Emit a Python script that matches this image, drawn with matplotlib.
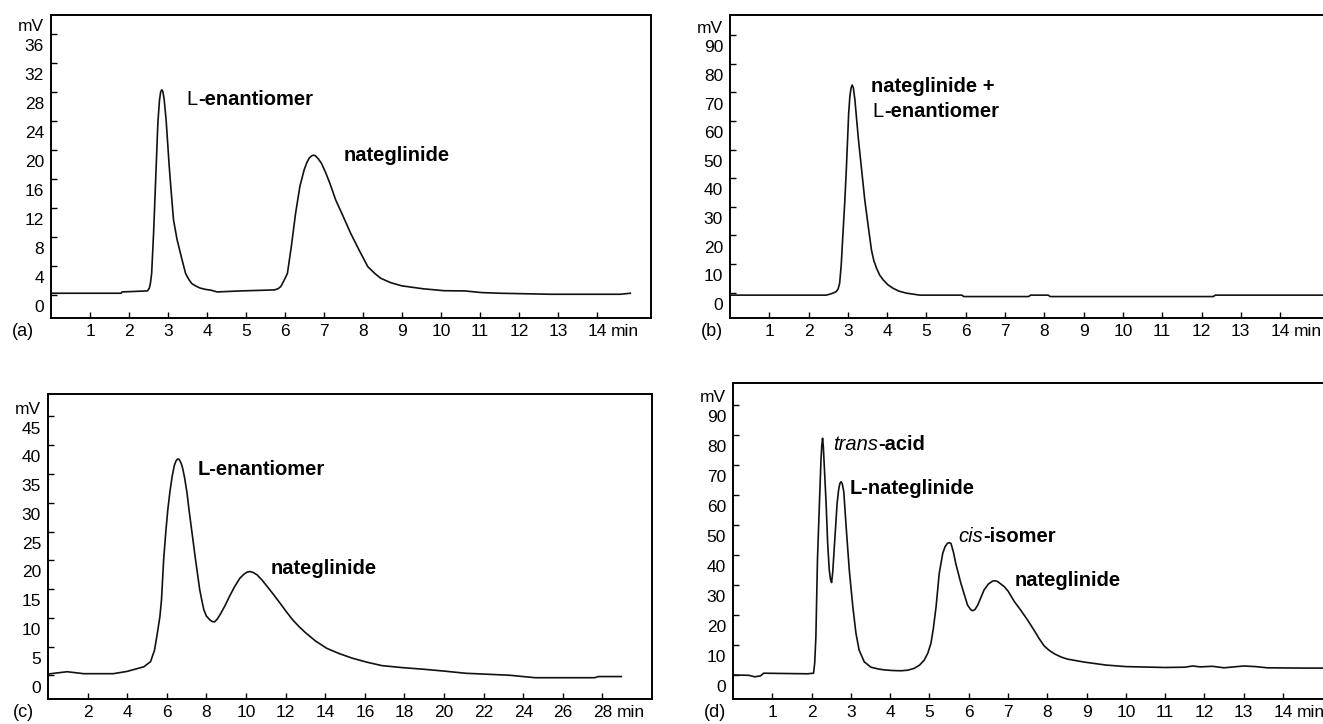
import matplotlib
matplotlib.use("Agg")
import matplotlib.pyplot as plt
import matplotlib.transforms as mtransforms

plt.rcParams["font.family"] = ["Liberation Sans", "DejaVu Sans"]

# ---- chromatogram (a): retention time (min) / detector signal (mV)
a_time = [0.0, 1.8, 1.82, 2.47, 2.52, 2.55, 2.58, 2.63, 2.69, 2.74, 2.78, 2.81,
          2.84, 2.87, 2.9, 2.95, 2.99, 3.03, 3.07, 3.14, 3.23, 3.34, 3.45, 3.53,
          3.61, 3.72, 3.82, 3.95, 4.1, 4.26, 4.86, 5.5, 5.73, 5.82, 5.89, 5.96,
          6.06, 6.16, 6.27, 6.38, 6.49, 6.56, 6.62, 6.68, 6.73, 6.78, 6.85, 6.93,
          7.04, 7.15, 7.3, 7.47, 7.68, 7.9, 8.12, 8.3, 8.45, 8.7, 8.99, 9.53,
          10.07, 10.6, 11.04, 11.5, 12.8, 14.6, 14.85]
a_mv = [0.28, 0.28, 0.46, 0.6, 0.97, 1.7, 3.0, 8.6, 16.9, 23.8, 26.8, 28.0,
        28.3, 28.0, 27.0, 24.2, 21.0, 17.8, 15.0, 10.4, 7.7, 5.3, 3.0, 2.2,
        1.6, 1.25, 1.0, 0.82, 0.7, 0.46, 0.6, 0.7, 0.74, 0.9, 1.2, 1.9,
        3.0, 6.7, 11.3, 15.0, 17.3, 18.3, 18.9, 19.2, 19.3, 19.2, 18.8, 18.2,
        16.9, 15.4, 13.1, 11.1, 8.55, 6.2, 3.95, 3.0, 2.35, 1.75, 1.3, 0.9,
        0.63, 0.6, 0.37, 0.28, 0.14, 0.14, 0.28]

# ---- chromatogram (b)
b_time = [0.0, 2.45, 2.53, 2.62, 2.7, 2.75, 2.79, 2.83, 2.87, 2.92, 2.96, 3.02,
          3.05, 3.08, 3.11, 3.14, 3.18, 3.22, 3.27, 3.35, 3.43, 3.52, 3.6, 3.66,
          3.73, 3.81, 3.9, 4.02, 4.15, 4.3, 4.49, 4.83, 5.9, 5.95, 7.6, 7.65,
          8.1, 8.15, 12.3, 12.35, 15.4]
b_mv = [-0.9, -0.9, -0.6, -0.2, 0.3, 1.2, 3.2, 9.5, 19.5, 31.5, 42.9, 62.7,
        68.5, 71.5, 72.6, 71.6, 67.3, 61.0, 53.4, 42.9, 32.4, 23.0, 14.9, 11.2,
        8.5, 6.1, 4.4, 2.7, 1.5, 0.5, -0.2, -0.9, -0.9, -1.4, -1.4, -0.9,
        -0.9, -1.4, -1.4, -0.9, -0.9]

# ---- chromatogram (c)
c_time = [0.0, 0.97, 1.8, 3.3, 4.0, 4.84, 5.18, 5.38, 5.52, 5.65, 5.73, 5.84,
          5.95, 6.05, 6.16, 6.27, 6.38, 6.47, 6.54, 6.6, 6.66, 6.73, 6.8, 6.9,
          7.02, 7.12, 7.23, 7.34, 7.45, 7.56, 7.66, 7.77, 7.87, 8.0, 8.19, 8.3,
          8.41, 8.55, 8.73, 8.95, 9.16, 9.42, 9.69, 9.9, 10.05, 10.2, 10.35,
          10.55, 10.8, 11.08, 11.4, 11.73, 12.05, 12.37, 12.7, 13.01, 13.5,
          14.08, 14.7, 15.36, 16.1, 16.86, 17.9, 19.0, 20.0, 21.1, 22.2, 23.3,
          24.6, 27.6, 27.8, 28.95]
c_mv = [0.24, 0.64, 0.3, 0.3, 0.7, 1.5, 2.4, 4.4, 7.3, 10.2, 13.1, 20.1,
        25.0, 28.8, 32.0, 34.6, 36.5, 37.3, 37.6, 37.6, 37.3, 36.8, 36.0, 34.3,
        31.7, 28.8, 25.9, 23.0, 20.1, 17.4, 14.9, 13.0, 11.4, 10.3, 9.6, 9.35,
        9.3, 9.8, 10.8, 12.2, 13.7, 15.4, 16.9, 17.6, 17.95, 18.05, 17.9,
        17.5, 16.6, 15.4, 14.0, 12.5, 11.0, 9.6, 8.4, 7.4, 6.0,
        4.7, 3.8, 3.0, 2.3, 1.7, 1.35, 1.06, 0.75, 0.37, 0.2, 0.03,
        -0.4, -0.4, -0.2, -0.2]

# ---- chromatogram (d)
d_time = [0.0, 0.4, 0.55, 0.7, 0.78, 1.3, 1.9, 2.05, 2.08, 2.11, 2.15, 2.2, 2.24,
          2.26, 2.28, 2.3, 2.32, 2.37, 2.41, 2.45, 2.48, 2.51, 2.54, 2.58, 2.65,
          2.69, 2.72, 2.75, 2.78, 2.82, 2.88, 2.96, 3.05, 3.13, 3.21, 3.34,
          3.51, 3.7, 3.85, 4.05, 4.27, 4.45, 4.61, 4.75, 4.87, 4.96, 5.04, 5.1,
          5.17, 5.25, 5.34, 5.4, 5.46, 5.51, 5.55, 5.61, 5.67, 5.8, 5.97, 6.05,
          6.1, 6.16, 6.23, 6.39, 6.5, 6.61, 6.68, 6.74, 6.9, 7.0, 7.16, 7.33,
          7.5, 7.65, 7.8, 7.92, 8.05, 8.19, 8.35, 8.51, 8.94, 9.5, 10.0, 11.0,
          11.5, 11.7, 11.9, 12.2, 12.5, 13.0, 13.3, 13.6, 14.5, 15.4]
d_mv = [0.0, -0.1, -0.6, -0.3, 0.6, 0.5, 0.4, 0.6, 4.0, 12.8, 38.3, 57.2, 71.7,
        76.5, 78.9, 76.0, 70.6, 57.2, 43.9, 35.0, 32.0, 30.8, 34.5, 42.8, 57.2,
        61.8, 63.8, 64.4, 63.8, 61.1, 49.4, 35.0, 22.8, 13.9, 8.3, 4.4,
        2.6, 2.0, 1.7, 1.5, 1.4, 1.6, 2.2, 3.3, 5.0, 7.3, 10.6, 15.5,
        22.8, 33.9, 40.6, 42.8, 43.9, 44.1, 43.8, 41.0, 37.2, 30.6, 23.3, 21.8,
        21.4, 21.8, 23.3, 28.3, 30.3, 31.3, 31.4, 31.1, 29.5, 28.0, 24.5, 21.5,
        18.3, 15.2, 12.0, 9.7, 8.2, 7.0, 6.0, 5.3, 4.3, 3.3, 2.8, 2.5,
        2.6, 3.0, 2.7, 2.9, 2.4, 3.0, 2.8, 2.4, 2.3, 2.3]

a_yticks = list(range(0, 37, 4))
b_yticks = list(range(0, 91, 10))
c_yticks = list(range(0, 46, 5))
d_yticks = list(range(0, 91, 10))
short_xticks = list(range(1, 15))
long_xticks = list(range(2, 29, 2))

W, H = 1323, 724
XPAD = 4.0
TICK_FS = 12.5
fig = plt.figure(figsize=(W / 100, H / 100), dpi=100)


def px_axes(left, top, right, bottom):
    return fig.add_axes([left / W, 1 - bottom / H, (right - left) / W, (bottom - top) / H])


def setup(ax, xlim, ylim, xticks, yticks, panel, label_x):
    ax.set_xlim(*xlim)
    ax.set_ylim(*ylim)
    ax.set_xticks(xticks)
    ax.set_xticklabels([str(t) for t in xticks])
    ax.set_yticks(yticks)
    ax.tick_params(direction="in", length=4, width=1.0, labelsize=TICK_FS, pad=5)
    ax.tick_params(axis="x", pad=XPAD)
    for s in ax.spines.values():
        s.set_linewidth(1.4)
    # chromatography software puts the y labels just under their tick
    offset = mtransforms.ScaledTranslation(0, -8 / 72, fig.dpi_scale_trans)
    for tick in ax.yaxis.get_major_ticks():
        tick.label1.set_transform(tick.label1.get_transform() + offset)
    ax.annotate("mV", xy=(0, yticks[-1]), xycoords=("axes fraction", "data"),
                xytext=(-5, 5), textcoords="offset points",
                ha="right", va="center", fontsize=TICK_FS)
    ax.annotate("min", xy=(xticks[-1], 0), xycoords=("data", "axes fraction"),
                xytext=(10, -XPAD), textcoords="offset points",
                ha="left", va="top", fontsize=TICK_FS)
    ax.annotate(panel, xy=(0, 0), xycoords="axes fraction",
                xytext=(label_x, -XPAD + 0.5), textcoords="offset points",
                ha="right", va="top", fontsize=13)


def label(ax, x, y, parts, size=14.5):
    prev = None
    for text, style in parts:
        kw = dict(fontsize=size, ha="left")
        kw.update(style)
        if prev is None:
            prev = ax.text(x, y, text, va="center", **kw)
        else:
            prev = ax.annotate(text, xy=(1, 0), xycoords=prev, va="bottom", **kw)


BOLD = {"fontweight": "bold"}
REG = {}
ITAL = {"fontstyle": "italic"}

line_kw = dict(color="#111111", lw=1.2)

# (a)
ax_a = px_axes(51, 15, 651, 318)
ax_a.plot(a_time, a_mv, **line_kw)
setup(ax_a, (0, 15.38), (-3.13, 38.6), short_xticks, a_yticks, "(a)", -12)
label(ax_a, 3.48, 27.0, [("L", REG), ("-enantiomer", BOLD)])
label(ax_a, 7.49, 19.2, [("nateglinide", BOLD)])

# (b)
ax_b = px_axes(730, 15, 1330, 318)
ax_b.plot(b_time, b_mv, **line_kw)
setup(ax_b, (0, 15.27), (-8.9, 97.1), short_xticks, b_yticks, "(b)", -5)
label(ax_b, 3.6, 72.1, [("nateglinide +", BOLD)])
label(ax_b, 3.63, 63.4, [("L", REG), ("-enantiomer", BOLD)])

# (c)
ax_c = px_axes(48, 394, 652, 699)
ax_c.plot(c_time, c_mv, **line_kw)
setup(ax_c, (0, 30.5), (-4.1, 48.9), long_xticks, c_yticks, "(c)", -10)
label(ax_c, 7.55, 35.8, [("L-enantiomer", BOLD)])
label(ax_c, 11.23, 18.5, [("nateglinide", BOLD)])

# (d)
ax_d = px_axes(733, 383, 1336, 699)
ax_d.plot(d_time, d_mv, **line_kw)
setup(ax_d, (0, 15.35), (-8.0, 97.3), short_xticks, d_yticks, "(d)", -5)
label(ax_d, 2.55, 76.7, [("trans", ITAL), ("-acid", BOLD)])
label(ax_d, 2.98, 62.2, [("L-nateglinide", BOLD)])
label(ax_d, 5.73, 46.2, [("cis", ITAL), ("-isomer", BOLD)])
label(ax_d, 7.17, 31.4, [("nateglinide", BOLD)])

fig.savefig("out.png", dpi=100)
